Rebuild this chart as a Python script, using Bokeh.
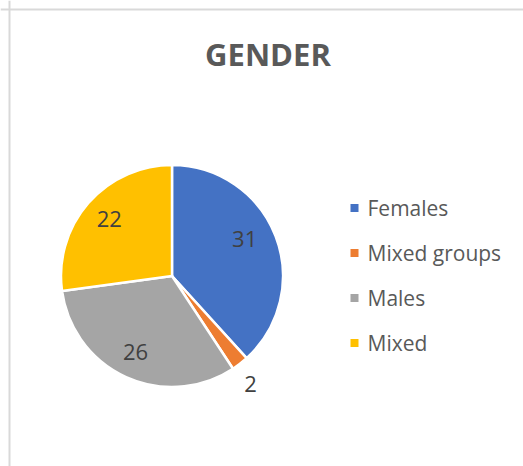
import numpy as np
from bokeh.plotting import figure
from bokeh.models import Range1d, Span, ColumnDataSource, Label
from bokeh.core.properties import value
from bokeh.embed import file_html
from bokeh.resources import INLINE

# ---- data ----
title = "GENDER"
categories = ["Females", "Mixed groups", "Males", "Mixed"]
counts = [31, 2, 26, 22]
colors = ["#4472C4", "#ED7D31", "#A5A5A5", "#FFC000"]

# ---- styles / layout ----
W, H = 523, 466
cx, cy, R = 171.5, 190.5, 111
label_rfrac = [0.75, 1.2, 0.75, 0.75]
label_dx = [-5, -3, -2, 0]
label_dy = [7, -3, 0, 2]
FONT = "Open Sans"

p = figure(width=W, height=H, output_backend="svg", toolbar_location=None,
           x_range=Range1d(0, W), y_range=Range1d(0, H), min_border=0,
           x_axis_type=None, y_axis_type=None)
p.grid.visible = False
p.outline_line_color = None
p.background_fill_color = "white"
p.border_fill_color = "white"

# chart-area border (only top and left visible in the window)
p.add_layout(Span(location=9, dimension="height", line_color="#d9d9d9", line_width=2))
p.add_layout(Span(location=H - 9, dimension="width", line_color="#d9d9d9", line_width=2))

# title
p.add_layout(Label(x=267.5, y=412.5, text=title, text_font=FONT, text_font_style="bold",
                   text_font_size="31px", text_color="#595959", text_align="center",
                   text_baseline="middle"))

# pie
vals = np.array(counts, dtype=float)
frac = vals / vals.sum()
cum = np.concatenate([[0.0], np.cumsum(frac)])
start = np.pi / 2 - 2 * np.pi * cum[:-1]
end = np.pi / 2 - 2 * np.pi * cum[1:]
mid = (start + end) / 2

src = ColumnDataSource(dict(start=start, end=end, color=colors, cat=categories))
p.wedge(x=cx, y=cy, radius=R, radius_units="screen", start_angle="start", end_angle="end",
        direction="clock", fill_color="color", line_color="white", line_width=2.5, source=src)

# data labels
rr = np.array(label_rfrac) * R
lx = cx + rr * np.cos(mid) + np.array(label_dx)
ly = cy + rr * np.sin(mid) + np.array(label_dy)
lab_src = ColumnDataSource(dict(x=lx, y=ly, t=[str(c) for c in counts]))
p.text(x="x", y="y", text="t", source=lab_src, text_font=value(FONT), text_font_size="22px",
       text_color="#404040", text_align="center", text_baseline="middle")

# legend
n = len(categories)
leg_y = 258.5 - 45 * np.arange(n)
leg_src = ColumnDataSource(dict(x=[354] * n, tx=[367] * n, y=leg_y, color=colors, cat=categories))
p.rect(x="x", y="y", width=8, height=8, fill_color="color", line_color=None, source=leg_src)
p.text(x="tx", y="y", text="cat", source=leg_src, text_font=value(FONT), text_font_size="21px",
       text_color="#595959", text_align="left", text_baseline="middle")

open("out.html", "w").write(file_html(p, INLINE))
